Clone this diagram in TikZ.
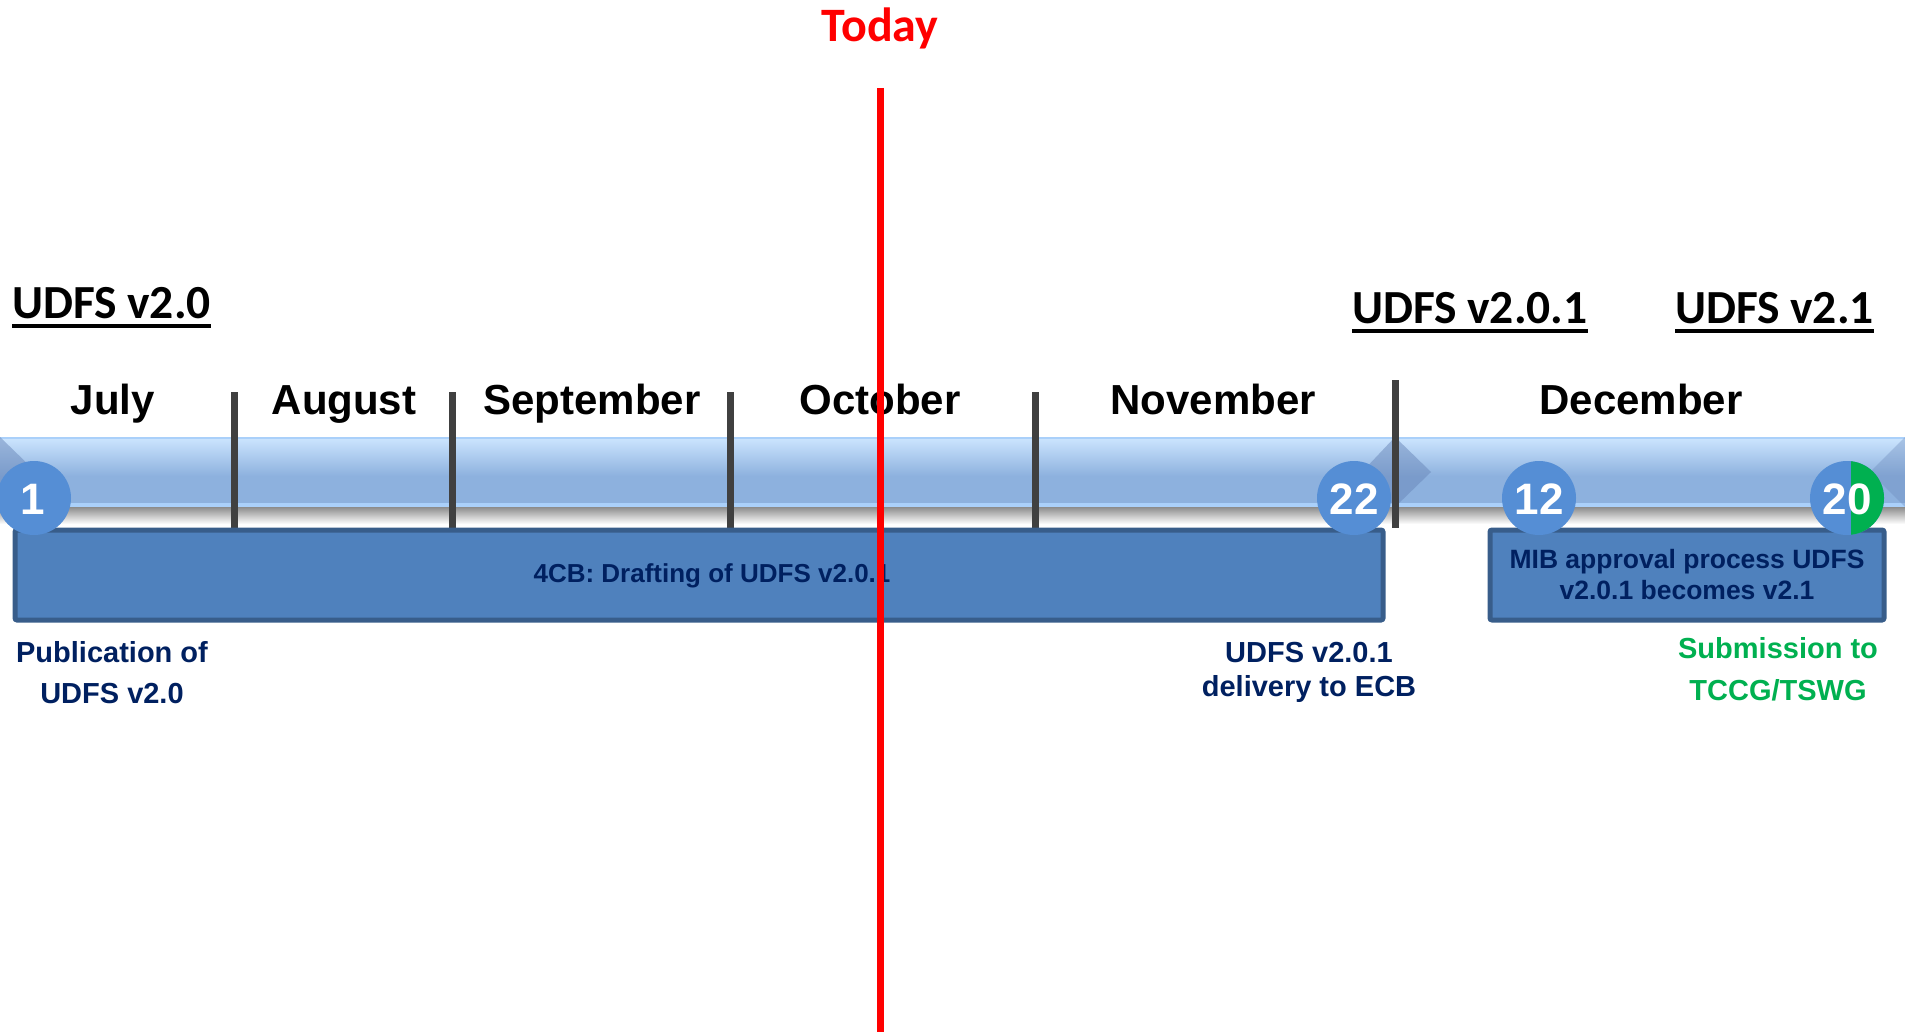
\documentclass[tikz,border=0pt]{standalone}
\usepackage{fontspec}
\setmainfont{Liberation Sans}
\newfontfamily\calfont{Carlito}
\usepackage{tikz}

\definecolor{navy}{RGB}{0,32,96}
\definecolor{subgreen}{RGB}{0,176,80}
\definecolor{boxblue}{RGB}{79,129,189}
\definecolor{boxedge}{RGB}{56,93,138}
\definecolor{dotblue}{RGB}{85,142,213}
\definecolor{tickgray}{RGB}{64,64,64}
\definecolor{bandtop}{RGB}{205,230,255}
\definecolor{bandmid}{RGB}{141,177,222}
\definecolor{bandlow}{RGB}{170,208,250}
\definecolor{chevron}{RGB}{105,135,185}

\begin{document}
\begin{tikzpicture}[x=1pt,y=-1pt]
    \tikzstyle{month} = [anchor=base, inner sep=0pt, font=\fontsize{42}{50}\selectfont\bfseries]
    \tikzstyle{release} = [anchor=base west, inner sep=0pt, font=\fontsize{47.5}{56}\selectfont\calfont\bfseries]
    \tikzstyle{daydot} = [circle, fill=dotblue, minimum size=74pt, inner sep=0pt]
    \tikzstyle{daynum} = [anchor=base, inner sep=0pt, text=white, font=\fontsize{44}{52}\selectfont\bfseries]
    \tikzstyle{task} = [draw=boxedge, line width=5pt, fill=boxblue, rounded corners=2pt, inner sep=0pt]
    \tikzstyle{note} = [align=center, anchor=north, inner sep=0pt, text=navy, font=\fontsize{29}{41}\selectfont\bfseries]
    \tikzstyle{divider} = [line width=7pt, tickgray]
    \useasboundingbox (0,0) rectangle (1905,1032);

    % timeline band
    \shade[top color=bandtop, bottom color=bandmid] (0,437) rectangle (1905,476);
    \fill[bandmid] (0,476) rectangle (1905,503);
    \fill[bandlow] (0,503) rectangle (1905,507);
    \shade[top color=black!45, bottom color=white] (0,507) rectangle (1905,524);
    \draw[bandlow, line width=1.5pt] (0,438) -- (1905,438);
    \fill[chevron, opacity=0.5] (0,437) -- (36,472) -- (0,507) -- cycle;
    \fill[chevron, opacity=0.5] (1395,437) -- (1431,472) -- (1395,507) -- (1362,472) -- cycle;
    \fill[chevron, opacity=0.35] (1905,437) -- (1870,472) -- (1905,507) -- cycle;

    % month dividers
    \foreach \tx in {234, 452, 730, 1035} {
        \draw[divider] (\tx,392) -- (\tx,529);
    }
    \draw[divider] (1395,380) -- (1395,528);

    % tasks
    \node[task, minimum width=1368pt, minimum height=90pt] (draft) at (699,575) {};
    \node[anchor=base, inner sep=0pt, text=navy, font=\fontsize{26}{31}\selectfont\bfseries] (drafttxt) at (712,582) {4CB: Drafting of UDFS v2.0.1};
    \node[task, minimum width=394pt, minimum height=90pt, align=center, text=navy,
          font=\fontsize{26.5}{31}\selectfont\bfseries] (mib) at (1687,575) {MIB approval process UDFS\\v2.0.1 becomes v2.1};

    % milestones
    \foreach \dname/\dx in {1/34, 22/1354, 12/1539, 20/1847} {
        \node[daydot] (d\dname) at (\dx,498) {};
    }
    \begin{scope}
        \clip (1851,450) rectangle (1900,550);
        \fill[subgreen] (d20.center) circle (37);
    \end{scope}
    \foreach \dname/\dx in {1/33, 22/1354, 12/1539, 20/1847} {
        \node[daynum] (n\dname) at (\dx,514) {\dname};
    }

    % months
    \foreach \mname/\mx in {July/113, August/344, September/592, October/880, November/1213, December/1641} {
        \node[month] (m\mname) at (\mx,414) {\mname};
    }

    % releases
    \node[release] (r20) at (12,318) {UDFS v2.0};
    \node[release] (r201) at (1352,323) {UDFS v2.0.1};
    \node[release] (r21) at (1675,323) {UDFS v2.1};
    \foreach \r in {r20, r201, r21} {
        \draw[line width=3.5pt] ([yshift=-8pt]\r.base west) -- ([yshift=-8pt]\r.base east);
    }

    % notes under the band
    \node[note] (pub) at (112,641) {Publication of\\UDFS v2.0};
    \node[note, font=\fontsize{29}{34}\selectfont\bfseries] (ecb) at (1309,642) {UDFS v2.0.1\\delivery to ECB};
    \node[note, text=subgreen, font=\fontsize{29}{42}\selectfont\bfseries] (sub) at (1778,637) {Submission to\\TCCG/TSWG};

    % today marker
    \node[anchor=base, inner sep=0pt, text=red, font=\fontsize{48}{56}\selectfont\calfont\bfseries] (today) at (880,42) {Today};
    \coordinate (nowtop) at (880,88);
    \coordinate (nowbot) at (880,1032);
    \draw[red, line width=7pt] (nowtop) -- (nowbot);
\end{tikzpicture}
\end{document}
